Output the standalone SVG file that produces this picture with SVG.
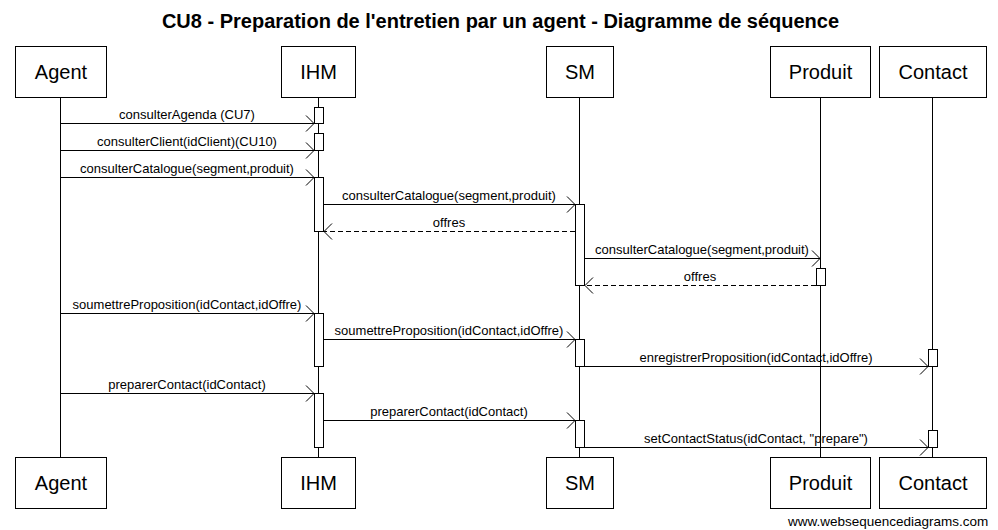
<svg xmlns="http://www.w3.org/2000/svg" width="998" height="530" viewBox="0 0 998 530">
<style>
  .box { fill: #fff; stroke: #000; stroke-width: 1; }
  .life { stroke: #000; stroke-width: 1; fill: none; }
  .act { fill: #fff; stroke: #000; stroke-width: 1; }
  .msg { stroke: #000; stroke-width: 1; fill: none; marker-end: url(#arr); }
  .ret { stroke: #000; stroke-width: 1; fill: none; stroke-dasharray: 5,3; marker-end: url(#arr); }
  .pname { font-family: "Liberation Sans", Arial, sans-serif; font-size: 20px; text-anchor: middle; fill: #000; }
  .lbl { font-family: "Liberation Sans", Arial, sans-serif; font-size: 13px; text-anchor: middle; fill: #000; }
  .title { font-family: "Liberation Sans", Arial, sans-serif; font-size: 20px; font-weight: bold; text-anchor: middle; fill: #000; }
  .foot { font-family: "Liberation Sans", Arial, sans-serif; font-size: 13.5px; fill: #000; }
</style>
<defs>
  <marker id="arr" markerUnits="userSpaceOnUse" orient="auto" refX="0" refY="0" viewBox="-10 -10 12 20" markerWidth="12" markerHeight="20" overflow="visible">
    <path d="M-8,-8 L0,0 L-8,8" fill="none" stroke="#000" stroke-width="1"/>
  </marker>
</defs>
<rect width="998" height="530" fill="#fff"/>
<text class="title" x="500.5" y="28">CU8 - Preparation de l'entretien par un agent - Diagramme de séquence</text>

<g id="lifelines">
  <line class="life" x1="60.5" y1="97" x2="60.5" y2="457"/>
  <line class="life" x1="318.5" y1="97" x2="318.5" y2="457"/>
  <line class="life" x1="579.5" y1="97" x2="579.5" y2="457"/>
  <line class="life" x1="820.5" y1="97" x2="820.5" y2="457"/>
  <line class="life" x1="932.5" y1="97" x2="932.5" y2="457"/>
</g>

<g id="Agent">
  <rect class="box" x="15.5" y="46.5" width="91" height="51"/>
  <text class="pname" x="61" y="79">Agent</text>
  <rect class="box" x="15.5" y="457.5" width="91" height="51"/>
  <text class="pname" x="61" y="490">Agent</text>
</g>
<g id="IHM">
  <rect class="box" x="281.5" y="46.5" width="74" height="51"/>
  <text class="pname" x="318.5" y="79">IHM</text>
  <rect class="box" x="281.5" y="457.5" width="74" height="51"/>
  <text class="pname" x="318.5" y="490">IHM</text>
  <rect class="act" x="314.5" y="107.5" width="9" height="16"/>
  <rect class="act" x="314.5" y="133.5" width="9" height="17"/>
  <rect class="act" x="314.5" y="177.5" width="9" height="54"/>
  <rect class="act" x="314.5" y="313.5" width="9" height="53"/>
  <rect class="act" x="314.5" y="393.5" width="9" height="54"/>
</g>
<g id="SM">
  <rect class="box" x="546.5" y="46.5" width="67" height="51"/>
  <text class="pname" x="580" y="79">SM</text>
  <rect class="box" x="546.5" y="457.5" width="67" height="51"/>
  <text class="pname" x="580" y="490">SM</text>
  <rect class="act" x="575.5" y="204.5" width="9" height="81"/>
  <rect class="act" x="575.5" y="339.5" width="9" height="27"/>
  <rect class="act" x="575.5" y="420.5" width="9" height="27"/>
</g>
<g id="Produit">
  <rect class="box" x="770.5" y="46.5" width="100" height="51"/>
  <text class="pname" x="820.5" y="79">Produit</text>
  <rect class="box" x="770.5" y="457.5" width="100" height="51"/>
  <text class="pname" x="820.5" y="490">Produit</text>
  <rect class="act" x="816.5" y="268.5" width="9" height="17"/>
</g>
<g id="Contact">
  <rect class="box" x="879.5" y="46.5" width="107" height="51"/>
  <text class="pname" x="933" y="79">Contact</text>
  <rect class="box" x="879.5" y="457.5" width="107" height="51"/>
  <text class="pname" x="933" y="490">Contact</text>
  <rect class="act" x="928.5" y="349.5" width="9" height="17"/>
  <rect class="act" x="928.5" y="430.5" width="9" height="17"/>
</g>

<g id="connectors">
  <line class="msg" x1="60.5" y1="123.5" x2="314" y2="123.5"/>
  <text class="lbl" x="187" y="119">consulterAgenda (CU7)</text>
  <line class="msg" x1="60.5" y1="150.5" x2="314" y2="150.5"/>
  <text class="lbl" x="187" y="146">consulterClient(idClient)(CU10)</text>
  <line class="msg" x1="60.5" y1="177.5" x2="314" y2="177.5"/>
  <text class="lbl" x="187" y="173">consulterCatalogue(segment,produit)</text>
  <line class="msg" x1="324" y1="204.5" x2="575" y2="204.5"/>
  <text class="lbl" x="449" y="200">consulterCatalogue(segment,produit)</text>
  <line class="ret" x1="575" y1="231.5" x2="324" y2="231.5"/>
  <text class="lbl" x="449" y="227">offres</text>
  <line class="msg" x1="585" y1="258.5" x2="820" y2="258.5"/>
  <text class="lbl" x="702" y="254">consulterCatalogue(segment,produit)</text>
  <line class="ret" x1="816" y1="285.5" x2="585" y2="285.5"/>
  <text class="lbl" x="700" y="281">offres</text>
  <line class="msg" x1="60.5" y1="313.5" x2="314" y2="313.5"/>
  <text class="lbl" x="187" y="309">soumettreProposition(idContact,idOffre)</text>
  <line class="msg" x1="324" y1="339.5" x2="575" y2="339.5"/>
  <text class="lbl" x="449" y="335">soumettreProposition(idContact,idOffre)</text>
  <line class="msg" x1="585" y1="366.5" x2="928" y2="366.5"/>
  <text class="lbl" x="756" y="362">enregistrerProposition(idContact,idOffre)</text>
  <line class="msg" x1="60.5" y1="393.5" x2="314" y2="393.5"/>
  <text class="lbl" x="187" y="389">preparerContact(idContact)</text>
  <line class="msg" x1="324" y1="420.5" x2="575" y2="420.5"/>
  <text class="lbl" x="449" y="416">preparerContact(idContact)</text>
  <line class="msg" x1="585" y1="447.5" x2="928" y2="447.5"/>
  <text class="lbl" x="756" y="443">setContactStatus(idContact, "prepare")</text>
</g>

<text class="foot" x="788" y="526">www.websequencediagrams.com</text>
</svg>
